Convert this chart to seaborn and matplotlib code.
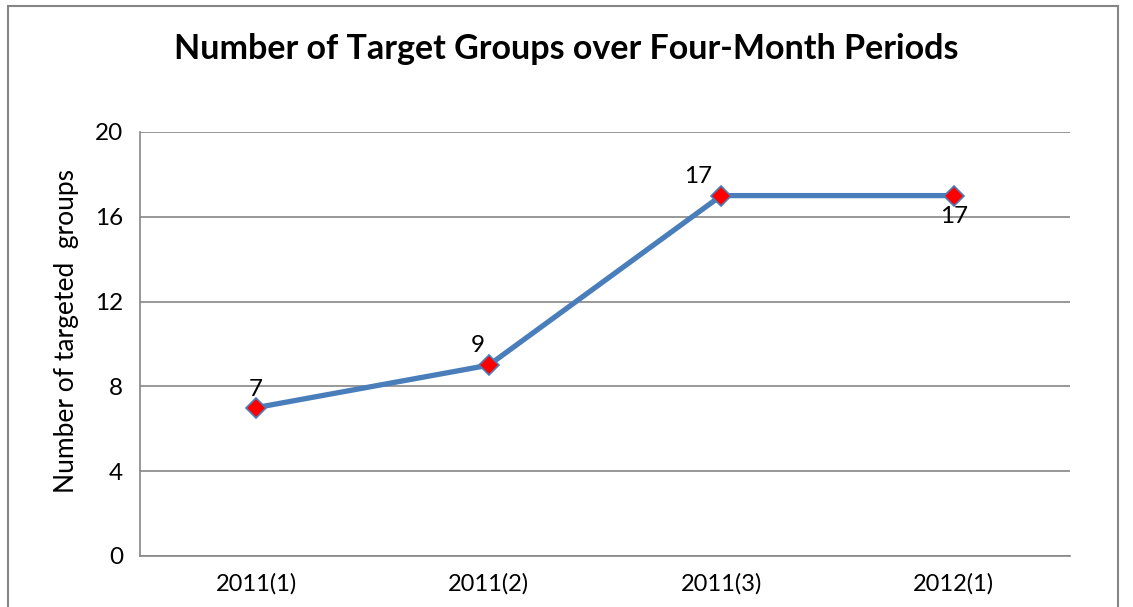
import matplotlib
matplotlib.use("Agg")
import matplotlib.pyplot as plt
import seaborn as sns
import pandas as pd
from matplotlib.patches import Rectangle

# data
periods = ["2011(1)", "2011(2)", "2011(3)", "2012(1)"]
groups = [7, 9, 17, 17]
y_ticks = [0, 4, 8, 12, 16, 20]

df = pd.DataFrame({"period": periods, "groups": groups})

sns.set_theme(style="white")
plt.rcParams["font.family"] = ["Lato", "DejaVu Sans"]
plt.rcParams["text.color"] = "black"

fig = plt.figure(figsize=(11.33, 6.07), dpi=100)
ax = fig.add_axes([140 / 1133, 51 / 607, 930 / 1133, 424 / 607])

# outer chart frame like Excel
fig.patches.append(Rectangle((8 / 1133, -0.05), 1110 / 1133, 1.04,
                             transform=fig.transFigure, fill=False,
                             edgecolor="#868686", linewidth=1.5))

sns.lineplot(data=df, x="period", y="groups", ax=ax, color="#4A7EBB",
             linewidth=3.8, marker="D", markersize=10,
             markerfacecolor="#FF0000", markeredgecolor="#4A7EBB",
             markeredgewidth=1.2, sort=False)

ax.set_xlim(-0.5, 3.5)
ax.set_ylim(0, 20)
ax.set_yticks(y_ticks)
ax.set_xticks(range(len(periods)))
ax.set_xticklabels(periods)
ax.set_xticks([-0.5, 0.5, 1.5, 2.5, 3.5], minor=True)
ax.yaxis.grid(True, color="#868686", linewidth=1.2)
ax.set_axisbelow(True)

for s in ["top", "right"]:
    ax.spines[s].set_visible(False)
for s in ["left", "bottom"]:
    ax.spines[s].set_color("#868686")
    ax.spines[s].set_linewidth(1.2)

ax.tick_params(axis="x", which="major", length=0, pad=12, labelsize=17, labelcolor="black")
ax.tick_params(axis="x", which="minor", length=6, width=1.2, color="#868686", direction="out")
ax.tick_params(axis="y", which="major", length=6, width=1.2, color="#868686", direction="out",
               labelsize=17.5, pad=6, labelcolor="black")

ax.set_xlabel("")
ax.set_ylabel("Number of targeted  groups", fontsize=19, color="black")
ax.yaxis.set_label_coords(-0.066, 0.53)

# data labels
offsets = [(0, 13), (-8, 14), (-17, 14), (0, -15)]
for i, (v, off) in enumerate(zip(groups, offsets)):
    ax.annotate(str(v), (i, v), xytext=off, textcoords="offset points",
                ha="center", va="center", fontsize=17.5, color="black")

fig.text(0.5, 1 - 49 / 607, "Number of Target Groups over Four-Month Periods",
         ha="center", va="center", fontsize=24.5, fontweight="bold", color="black")

fig.savefig("out.png", dpi=100)
